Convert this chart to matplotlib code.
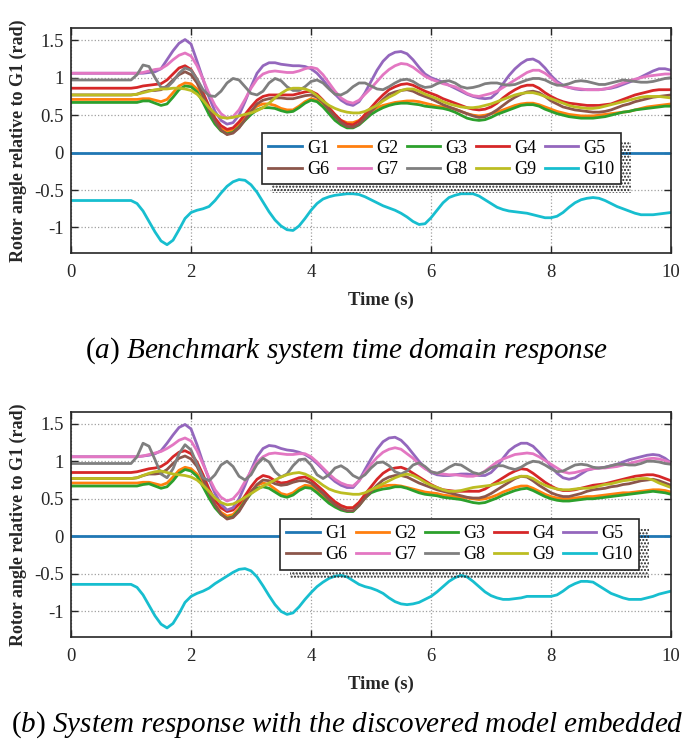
import numpy as np
import matplotlib
matplotlib.use("Agg")
import matplotlib.pyplot as plt
from matplotlib.patches import Rectangle

plt.rcParams["font.family"] = ["Liberation Serif", "DejaVu Serif"]
plt.rcParams["mathtext.fontset"] = "custom"
plt.rcParams["mathtext.rm"] = "Liberation Serif"
plt.rcParams["mathtext.it"] = "Liberation Serif:italic"
plt.rcParams["hatch.linewidth"] = 1.0

# time grid: t=0, then 1.0 .. 10.0 every 0.1 s
T = np.concatenate([[0.0], np.round(np.arange(10, 101) / 10.0, 1)])
T_G1 = [0.0, 10.0]
G1 = [0.0, 0.0]

NAMES = ["G1", "G2", "G3", "G4", "G5", "G6", "G7", "G8", "G9", "G10"]
COLORS = ["#1f77b4", "#ff7f0e", "#2ca02c", "#d62728", "#9467bd",
          "#8c564b", "#e377c2", "#7f7f7f", "#bcbd22", "#17becf"]
XTICKS = [0, 2, 4, 6, 8, 10]
YTICKS = [-1, -0.5, 0, 0.5, 1, 1.5]
YTICK_LABELS = ["-1", "-0.5", "0", "0.5", "1", "1.5"]

# ---- (a) benchmark system ----
A_G2 = [0.71,
        0.71, 0.71, 0.72, 0.72, 0.70, 0.68, 0.71, 0.80, 0.89, 0.93,
        0.92, 0.85, 0.72, 0.56, 0.42, 0.32, 0.28, 0.30, 0.37, 0.46,
        0.55, 0.62, 0.65, 0.65, 0.63, 0.59, 0.57, 0.57, 0.62, 0.68,
        0.72, 0.70, 0.64, 0.56, 0.48, 0.43, 0.40, 0.40, 0.43, 0.49,
        0.55, 0.60, 0.63, 0.65, 0.67, 0.68, 0.69, 0.69, 0.68, 0.66,
        0.64, 0.62, 0.61, 0.60, 0.58, 0.55, 0.52, 0.50, 0.49, 0.50,
        0.52, 0.54, 0.57, 0.60, 0.63, 0.65, 0.66, 0.66, 0.64, 0.61,
        0.58, 0.55, 0.53, 0.51, 0.50, 0.49, 0.49, 0.49, 0.50, 0.51,
        0.52, 0.53, 0.54, 0.55, 0.57, 0.59, 0.61, 0.62, 0.63, 0.64,
        0.65]
A_G3 = [0.67,
        0.67, 0.67, 0.69, 0.69, 0.66, 0.63, 0.65, 0.74, 0.84, 0.89,
        0.88, 0.81, 0.67, 0.51, 0.38, 0.29, 0.25, 0.27, 0.34, 0.43,
        0.51, 0.57, 0.60, 0.60, 0.59, 0.56, 0.54, 0.55, 0.60, 0.66,
        0.70, 0.68, 0.61, 0.52, 0.43, 0.37, 0.33, 0.33, 0.37, 0.44,
        0.51, 0.56, 0.60, 0.63, 0.65, 0.66, 0.66, 0.65, 0.64, 0.62,
        0.61, 0.60, 0.59, 0.57, 0.54, 0.50, 0.46, 0.44, 0.43, 0.44,
        0.47, 0.51, 0.54, 0.57, 0.60, 0.63, 0.64, 0.64, 0.62, 0.58,
        0.55, 0.52, 0.50, 0.48, 0.47, 0.46, 0.46, 0.46, 0.47, 0.48,
        0.50, 0.52, 0.54, 0.55, 0.57, 0.58, 0.59, 0.60, 0.61, 0.62,
        0.62]
A_G4 = [0.86,
        0.86, 0.87, 0.89, 0.90, 0.91, 0.92, 0.97, 1.05, 1.13, 1.16,
        1.11, 0.98, 0.80, 0.62, 0.46, 0.36, 0.31, 0.33, 0.41, 0.51,
        0.61, 0.70, 0.75, 0.77, 0.77, 0.77, 0.77, 0.77, 0.79, 0.81,
        0.82, 0.78, 0.70, 0.60, 0.51, 0.43, 0.38, 0.37, 0.42, 0.51,
        0.60, 0.69, 0.77, 0.84, 0.88, 0.91, 0.92, 0.90, 0.86, 0.82,
        0.79, 0.76, 0.72, 0.69, 0.66, 0.63, 0.60, 0.58, 0.57, 0.58,
        0.61, 0.66, 0.73, 0.79, 0.84, 0.88, 0.90, 0.90, 0.86, 0.80,
        0.75, 0.71, 0.68, 0.66, 0.65, 0.64, 0.63, 0.63, 0.63, 0.64,
        0.65, 0.68, 0.71, 0.74, 0.77, 0.79, 0.81, 0.83, 0.84, 0.84,
        0.84]
A_G5 = [1.06,
        1.06, 1.06, 1.06, 1.07, 1.08, 1.12, 1.24, 1.36, 1.46, 1.51,
        1.45, 1.22, 0.98, 0.74, 0.55, 0.43, 0.38, 0.40, 0.50, 0.68,
        0.88, 1.06, 1.16, 1.20, 1.20, 1.18, 1.17, 1.16, 1.16, 1.15,
        1.12, 1.06, 0.97, 0.87, 0.78, 0.70, 0.65, 0.63, 0.68, 0.80,
        0.95, 1.10, 1.22, 1.30, 1.34, 1.35, 1.32, 1.24, 1.14, 1.05,
        1.00, 0.97, 0.94, 0.90, 0.86, 0.82, 0.78, 0.75, 0.73, 0.72,
        0.73, 0.80, 0.92, 1.03, 1.12, 1.19, 1.24, 1.25, 1.21, 1.13,
        1.03, 0.95, 0.90, 0.87, 0.85, 0.84, 0.84, 0.84, 0.84, 0.85,
        0.86, 0.88, 0.91, 0.94, 0.97, 1.01, 1.05, 1.09, 1.12, 1.12,
        1.10]
A_G6 = [0.77,
        0.77, 0.78, 0.81, 0.83, 0.83, 0.84, 0.89, 0.97, 1.04, 1.08,
        1.04, 0.93, 0.76, 0.58, 0.42, 0.30, 0.24, 0.26, 0.33, 0.44,
        0.55, 0.65, 0.70, 0.72, 0.73, 0.73, 0.72, 0.72, 0.74, 0.76,
        0.77, 0.74, 0.67, 0.57, 0.48, 0.40, 0.35, 0.34, 0.38, 0.46,
        0.55, 0.63, 0.71, 0.78, 0.81, 0.83, 0.84, 0.82, 0.78, 0.75,
        0.72, 0.68, 0.64, 0.61, 0.58, 0.55, 0.52, 0.49, 0.47, 0.48,
        0.52, 0.57, 0.63, 0.69, 0.74, 0.78, 0.81, 0.82, 0.80, 0.75,
        0.69, 0.65, 0.61, 0.59, 0.57, 0.56, 0.55, 0.54, 0.54, 0.55,
        0.57, 0.60, 0.63, 0.65, 0.68, 0.70, 0.72, 0.74, 0.75, 0.76,
        0.77]
A_G7 = [1.06,
        1.06, 1.06, 1.07, 1.09, 1.11, 1.12, 1.17, 1.24, 1.30, 1.33,
        1.29, 1.16, 0.98, 0.79, 0.63, 0.52, 0.46, 0.48, 0.57, 0.71,
        0.86, 0.98, 1.05, 1.08, 1.09, 1.08, 1.07, 1.07, 1.09, 1.12,
        1.14, 1.12, 1.04, 0.93, 0.82, 0.73, 0.68, 0.66, 0.70, 0.78,
        0.86, 0.95, 1.04, 1.11, 1.16, 1.19, 1.18, 1.14, 1.08, 1.02,
        0.98, 0.95, 0.92, 0.90, 0.88, 0.84, 0.79, 0.76, 0.75, 0.77,
        0.79, 0.82, 0.87, 0.92, 0.97, 1.02, 1.07, 1.10, 1.10, 1.06,
        1.00, 0.93, 0.89, 0.87, 0.86, 0.85, 0.84, 0.84, 0.84, 0.85,
        0.87, 0.90, 0.93, 0.96, 0.98, 1.00, 1.02, 1.03, 1.04, 1.05,
        1.05]
A_G8 = [0.97,
        0.97, 1.04, 1.17, 1.15, 1.00, 0.87, 0.87, 0.95, 1.06, 1.13,
        1.10, 0.98, 0.84, 0.76, 0.75, 0.82, 0.93, 0.99, 0.97, 0.88,
        0.79, 0.77, 0.82, 0.93, 0.99, 0.96, 0.88, 0.83, 0.83, 0.88,
        0.95, 0.97, 0.93, 0.85, 0.78, 0.77, 0.81, 0.88, 0.93, 0.93,
        0.89, 0.85, 0.84, 0.88, 0.93, 0.97, 0.98, 0.95, 0.90, 0.87,
        0.88, 0.92, 0.95, 0.96, 0.93, 0.88, 0.86, 0.87, 0.89, 0.92,
        0.93, 0.93, 0.91, 0.90, 0.91, 0.94, 0.97, 0.99, 0.99, 0.97,
        0.93, 0.90, 0.90, 0.92, 0.95, 0.96, 0.95, 0.93, 0.91, 0.91,
        0.93, 0.95, 0.97, 0.96, 0.95, 0.94, 0.94, 0.95, 0.97, 0.99,
        1.00]
A_G9 = [0.77,
        0.77, 0.78, 0.80, 0.82, 0.84, 0.85, 0.85, 0.86, 0.86, 0.85,
        0.83, 0.78, 0.70, 0.60, 0.52, 0.47, 0.46, 0.47, 0.49, 0.51,
        0.53, 0.56, 0.60, 0.66, 0.73, 0.79, 0.84, 0.86, 0.86, 0.85,
        0.82, 0.76, 0.69, 0.63, 0.59, 0.56, 0.54, 0.53, 0.53, 0.55,
        0.59, 0.63, 0.69, 0.74, 0.78, 0.83, 0.85, 0.85, 0.82, 0.78,
        0.75, 0.72, 0.68, 0.65, 0.63, 0.61, 0.60, 0.60, 0.61, 0.63,
        0.65, 0.68, 0.71, 0.74, 0.77, 0.79, 0.80, 0.80, 0.78, 0.75,
        0.72, 0.69, 0.66, 0.63, 0.61, 0.60, 0.59, 0.59, 0.60, 0.62,
        0.64, 0.66, 0.68, 0.70, 0.72, 0.74, 0.75, 0.75, 0.75, 0.74,
        0.73]
A_G10 = [-0.64,
         -0.64, -0.68, -0.78, -0.92, -1.06, -1.18, -1.23, -1.17, -1.03, -0.88,
         -0.80, -0.77, -0.75, -0.72, -0.64, -0.54, -0.45, -0.39, -0.36, -0.37,
         -0.43, -0.53, -0.66, -0.79, -0.90, -0.98, -1.03, -1.04, -0.98, -0.88,
         -0.77, -0.68, -0.62, -0.59, -0.57, -0.56, -0.55, -0.55, -0.56, -0.59,
         -0.63, -0.67, -0.71, -0.74, -0.77, -0.81, -0.86, -0.92, -0.96, -0.95,
         -0.87, -0.77, -0.67, -0.60, -0.57, -0.55, -0.55, -0.55, -0.58, -0.63,
         -0.68, -0.73, -0.76, -0.78, -0.79, -0.80, -0.81, -0.83, -0.85, -0.87,
         -0.87, -0.85, -0.80, -0.73, -0.67, -0.63, -0.61, -0.60, -0.61, -0.64,
         -0.68, -0.72, -0.75, -0.78, -0.81, -0.83, -0.83, -0.83, -0.82, -0.81,
         -0.80]

# ---- (b) discovered model embedded ----
B_G2 = [0.71,
        0.71, 0.71, 0.72, 0.72, 0.70, 0.68, 0.71, 0.79, 0.88, 0.92,
        0.90, 0.83, 0.70, 0.55, 0.42, 0.32, 0.27, 0.29, 0.37, 0.49,
        0.60, 0.68, 0.71, 0.69, 0.63, 0.57, 0.55, 0.58, 0.64, 0.68,
        0.67, 0.61, 0.53, 0.47, 0.43, 0.40, 0.38, 0.38, 0.45, 0.54,
        0.60, 0.64, 0.67, 0.68, 0.68, 0.67, 0.65, 0.63, 0.61, 0.59,
        0.58, 0.57, 0.55, 0.54, 0.53, 0.52, 0.51, 0.50, 0.49, 0.50,
        0.52, 0.55, 0.59, 0.62, 0.65, 0.67, 0.67, 0.64, 0.60, 0.56,
        0.53, 0.51, 0.50, 0.50, 0.51, 0.52, 0.53, 0.53, 0.54, 0.55,
        0.56, 0.57, 0.58, 0.58, 0.59, 0.60, 0.61, 0.62, 0.62, 0.61,
        0.59]
B_G3 = [0.67,
        0.67, 0.67, 0.69, 0.70, 0.67, 0.64, 0.66, 0.74, 0.84, 0.89,
        0.87, 0.80, 0.66, 0.51, 0.38, 0.29, 0.24, 0.26, 0.35, 0.47,
        0.57, 0.64, 0.66, 0.64, 0.59, 0.54, 0.52, 0.55, 0.61, 0.65,
        0.64, 0.58, 0.51, 0.44, 0.39, 0.35, 0.33, 0.33, 0.41, 0.51,
        0.58, 0.61, 0.63, 0.64, 0.66, 0.66, 0.64, 0.61, 0.58, 0.56,
        0.55, 0.54, 0.52, 0.51, 0.50, 0.49, 0.47, 0.45, 0.44, 0.45,
        0.48, 0.51, 0.55, 0.58, 0.61, 0.63, 0.64, 0.61, 0.57, 0.53,
        0.50, 0.48, 0.47, 0.47, 0.48, 0.49, 0.50, 0.50, 0.51, 0.52,
        0.53, 0.54, 0.55, 0.56, 0.57, 0.58, 0.59, 0.60, 0.59, 0.58,
        0.56]
B_G4 = [0.85,
        0.85, 0.86, 0.88, 0.90, 0.91, 0.93, 0.98, 1.06, 1.12, 1.14,
        1.10, 0.99, 0.82, 0.63, 0.48, 0.38, 0.33, 0.35, 0.43, 0.54,
        0.66, 0.76, 0.81, 0.79, 0.74, 0.71, 0.72, 0.75, 0.78, 0.79,
        0.75, 0.68, 0.61, 0.53, 0.46, 0.41, 0.38, 0.38, 0.45, 0.56,
        0.66, 0.76, 0.84, 0.89, 0.91, 0.92, 0.89, 0.84, 0.79, 0.74,
        0.69, 0.65, 0.62, 0.61, 0.60, 0.60, 0.60, 0.60, 0.60, 0.63,
        0.68, 0.73, 0.78, 0.83, 0.87, 0.90, 0.89, 0.84, 0.78, 0.72,
        0.67, 0.63, 0.61, 0.61, 0.62, 0.64, 0.66, 0.68, 0.69, 0.70,
        0.72, 0.74, 0.76, 0.78, 0.80, 0.81, 0.82, 0.82, 0.80, 0.77,
        0.74]
B_G5 = [1.06,
        1.06, 1.06, 1.07, 1.08, 1.10, 1.14, 1.24, 1.35, 1.45, 1.49,
        1.43, 1.22, 0.98, 0.76, 0.57, 0.43, 0.35, 0.38, 0.50, 0.68,
        0.88, 1.06, 1.17, 1.21, 1.20, 1.17, 1.15, 1.14, 1.12, 1.09,
        1.04, 0.97, 0.89, 0.80, 0.73, 0.68, 0.65, 0.65, 0.74, 0.89,
        1.03, 1.16, 1.26, 1.31, 1.32, 1.28, 1.20, 1.10, 1.00, 0.91,
        0.85, 0.82, 0.81, 0.81, 0.82, 0.83, 0.83, 0.82, 0.81, 0.81,
        0.85, 0.93, 1.04, 1.14, 1.20, 1.24, 1.24, 1.20, 1.12, 1.03,
        0.93, 0.84, 0.78, 0.76, 0.78, 0.83, 0.88, 0.90, 0.91, 0.92,
        0.94, 0.96, 0.99, 1.02, 1.04, 1.06, 1.08, 1.09, 1.08, 1.04,
        0.98]
B_G6 = [0.77,
        0.77, 0.78, 0.81, 0.83, 0.83, 0.84, 0.89, 0.97, 1.04, 1.07,
        1.03, 0.93, 0.76, 0.58, 0.42, 0.30, 0.23, 0.25, 0.33, 0.46,
        0.59, 0.69, 0.75, 0.74, 0.70, 0.68, 0.69, 0.72, 0.74, 0.74,
        0.71, 0.64, 0.57, 0.49, 0.42, 0.37, 0.34, 0.34, 0.41, 0.51,
        0.60, 0.68, 0.75, 0.79, 0.81, 0.81, 0.79, 0.75, 0.71, 0.68,
        0.65, 0.62, 0.60, 0.58, 0.56, 0.54, 0.52, 0.51, 0.51, 0.53,
        0.57, 0.62, 0.67, 0.72, 0.77, 0.80, 0.79, 0.74, 0.68, 0.63,
        0.58, 0.55, 0.53, 0.53, 0.55, 0.57, 0.60, 0.62, 0.63, 0.64,
        0.66, 0.67, 0.69, 0.70, 0.72, 0.74, 0.75, 0.76, 0.74, 0.71,
        0.68]
B_G7 = [1.06,
        1.06, 1.06, 1.07, 1.09, 1.11, 1.13, 1.17, 1.22, 1.28, 1.31,
        1.27, 1.14, 0.96, 0.78, 0.62, 0.52, 0.47, 0.50, 0.59, 0.73,
        0.87, 0.99, 1.06, 1.10, 1.11, 1.10, 1.09, 1.09, 1.10, 1.10,
        1.06, 0.99, 0.91, 0.83, 0.76, 0.71, 0.68, 0.67, 0.74, 0.85,
        0.96, 1.05, 1.12, 1.16, 1.18, 1.16, 1.10, 1.04, 0.96, 0.90,
        0.86, 0.84, 0.83, 0.82, 0.82, 0.81, 0.80, 0.80, 0.82, 0.87,
        0.93, 0.99, 1.03, 1.06, 1.09, 1.10, 1.11, 1.10, 1.06, 1.01,
        0.96, 0.91, 0.86, 0.84, 0.85, 0.87, 0.89, 0.90, 0.91, 0.91,
        0.92, 0.93, 0.95, 0.97, 0.99, 1.01, 1.03, 1.04, 1.03, 1.01,
        0.98]
B_G8 = [0.97,
        0.97, 1.06, 1.24, 1.20, 1.02, 0.83, 0.78, 0.90, 1.10, 1.22,
        1.15, 0.96, 0.78, 0.74, 0.82, 0.95, 1.00, 0.93, 0.80, 0.75,
        0.82, 0.96, 1.04, 0.99, 0.86, 0.79, 0.83, 0.94, 1.02, 1.03,
        0.95, 0.82, 0.77, 0.82, 0.91, 0.94, 0.89, 0.81, 0.77, 0.82,
        0.91, 0.98, 0.99, 0.94, 0.86, 0.83, 0.87, 0.95, 0.98, 0.93,
        0.86, 0.84, 0.87, 0.92, 0.96, 0.95, 0.90, 0.85, 0.83, 0.86,
        0.91, 0.94, 0.94, 0.91, 0.89, 0.92, 0.97, 1.00, 0.99, 0.95,
        0.90, 0.86, 0.87, 0.91, 0.95, 0.96, 0.95, 0.92, 0.91, 0.92,
        0.94, 0.96, 0.96, 0.95, 0.95, 0.97, 1.00, 1.00, 0.99, 0.97,
        0.96]
B_G9 = [0.77,
        0.77, 0.78, 0.81, 0.84, 0.86, 0.87, 0.85, 0.83, 0.82, 0.81,
        0.79, 0.75, 0.68, 0.60, 0.51, 0.45, 0.42, 0.43, 0.47, 0.52,
        0.57, 0.62, 0.67, 0.71, 0.75, 0.79, 0.82, 0.84, 0.85, 0.83,
        0.79, 0.74, 0.68, 0.63, 0.60, 0.58, 0.57, 0.56, 0.56, 0.58,
        0.62, 0.66, 0.70, 0.74, 0.78, 0.81, 0.83, 0.81, 0.77, 0.72,
        0.68, 0.65, 0.62, 0.60, 0.60, 0.61, 0.63, 0.65, 0.66, 0.67,
        0.68, 0.70, 0.72, 0.75, 0.78, 0.80, 0.80, 0.77, 0.72, 0.68,
        0.65, 0.63, 0.62, 0.62, 0.63, 0.64, 0.64, 0.65, 0.67, 0.69,
        0.70, 0.72, 0.74, 0.75, 0.76, 0.77, 0.77, 0.75, 0.71, 0.68,
        0.65]
B_G10 = [-0.64,
         -0.64, -0.68, -0.78, -0.92, -1.06, -1.17, -1.22, -1.16, -1.03, -0.88,
         -0.80, -0.76, -0.73, -0.69, -0.63, -0.58, -0.53, -0.48, -0.44, -0.43,
         -0.46, -0.54, -0.66, -0.79, -0.91, -1.00, -1.04, -1.02, -0.94, -0.84,
         -0.75, -0.67, -0.61, -0.56, -0.53, -0.52, -0.54, -0.59, -0.64, -0.67,
         -0.69, -0.72, -0.76, -0.82, -0.87, -0.90, -0.91, -0.90, -0.88, -0.84,
         -0.80, -0.74, -0.67, -0.60, -0.55, -0.52, -0.54, -0.60, -0.67, -0.74,
         -0.79, -0.82, -0.84, -0.84, -0.83, -0.82, -0.80, -0.80, -0.80, -0.80,
         -0.80, -0.78, -0.73, -0.67, -0.63, -0.60, -0.60, -0.61, -0.66, -0.71,
         -0.76, -0.79, -0.82, -0.84, -0.84, -0.84, -0.82, -0.80, -0.77, -0.75,
         -0.73]

PANEL_A = [A_G2, A_G3, A_G4, A_G5, A_G6, A_G7, A_G8, A_G9, A_G10]
PANEL_B = [B_G2, B_G3, B_G4, B_G5, B_G6, B_G7, B_G8, B_G9, B_G10]

INK = "#262626"


def draw_panel(ax, series, leg_center):
    ax.plot(T_G1, G1, color=COLORS[0], lw=2.0, label=NAMES[0])
    for name, vals, col in zip(NAMES[1:], series, COLORS[1:]):
        ax.plot(T, vals, color=col, lw=2.0, label=name)
    ax.set_xlim(0, 10)
    ax.set_ylim(-1.345, 1.66)
    ax.set_xticks(XTICKS)
    ax.set_yticks(YTICKS)
    ax.set_yticklabels(YTICK_LABELS)
    ax.grid(True, ls=":", color="#a0a0a0", lw=0.9)
    ax.set_axisbelow(True)
    ax.tick_params(direction="in", top=True, right=True, labelsize=13.5,
                   length=5, width=1.0, colors=INK)
    ax.tick_params(axis="x", pad=8)
    ax.tick_params(axis="y", pad=5)
    for sp in ax.spines.values():
        sp.set_color(INK)
        sp.set_linewidth(1.2)
    ax.set_xlabel("Time (s)", fontsize=13.5, fontweight="bold", color=INK)
    ax.xaxis.set_label_coords(0.517, -0.17)
    ax.set_ylabel("Rotor angle relative to G1 (rad)", fontsize=13,
                  fontweight="bold", color=INK, labelpad=5)

    handles, labels = ax.get_legend_handles_labels()
    order = [0, 5, 1, 6, 2, 7, 3, 8, 4, 9]   # row-major G1..G5 / G6..G10
    leg = ax.legend([handles[i] for i in order], [labels[i] for i in order],
                    ncol=5, loc="center", bbox_to_anchor=leg_center,
                    fancybox=False, framealpha=1, edgecolor=INK, fontsize=13,
                    handlelength=1.85, handletextpad=0.3, columnspacing=0.45,
                    borderpad=0.35, labelspacing=0.25)
    leg.get_frame().set_linewidth(1.2)
    return leg


fig = plt.figure(figsize=(6.95, 7.55), dpi=100)
ax_a = fig.add_axes([0.1022, 0.6645, 0.8633, 0.298])
ax_b = fig.add_axes([0.1022, 0.1559, 0.8633, 0.2988])

leg_a = draw_panel(ax_a, PANEL_A, (0.6175, 0.42))
leg_b = draw_panel(ax_b, PANEL_B, (0.6475, 0.4125))

fig.text(0.498, 0.536, r"$\mathrm{(}a\mathrm{)}$ Benchmark system time domain response",
         ha="center", va="center", fontsize=21, style="italic", color="black")
fig.text(0.499, 0.040, r"$\mathrm{(}b\mathrm{)}$ System response with the discovered model embedded",
         ha="center", va="center", fontsize=21, style="italic", color="black")

# stippled drop shadow behind each legend (MATLAB export look)
fig.canvas.draw()
for ax, leg in [(ax_a, leg_a), (ax_b, leg_b)]:
    bb = leg.get_window_extent()
    inv = ax.transAxes.inverted()
    (x0, y0), (x1, y1) = inv.transform([[bb.x0 + 10, bb.y0 - 9], [bb.x1 + 10, bb.y1 - 9]])
    ax.add_patch(Rectangle((x0, y0), x1 - x0, y1 - y0, transform=ax.transAxes,
                           fill=False, hatch=".....", edgecolor="#222222", lw=0,
                           zorder=4.9))

fig.savefig("out.png", dpi=100)
